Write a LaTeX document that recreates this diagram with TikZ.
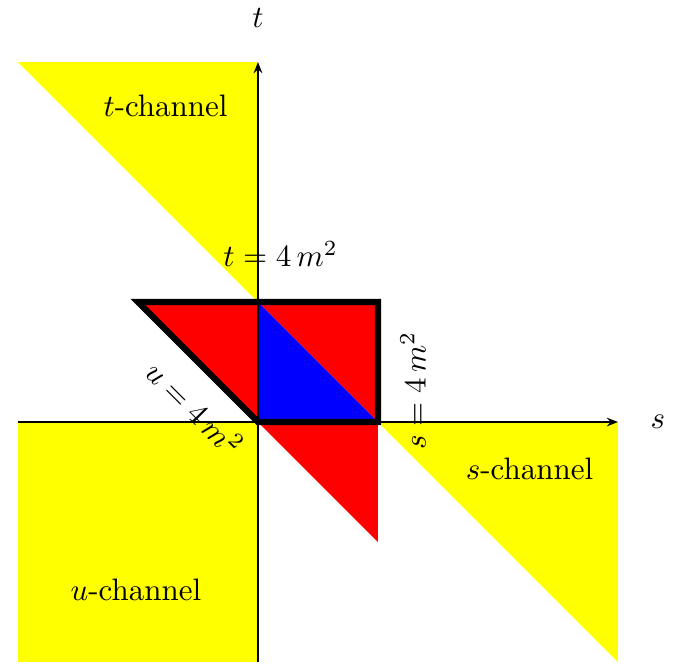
\documentclass[tikz,border=0pt]{standalone}
\usepackage{amsmath,amssymb}
\usepackage{xcolor}
\usepackage{tikz}
\usetikzlibrary{arrows.meta,calc,positioning}
\definecolor{chanyellow}{RGB}{255,255,0}
\tikzset{
  channel/.style={fill=chanyellow},
  crossed/.style={fill=red},
  mandel/.style={fill=blue},
  axis/.style={semithick,-{Stealth[length=3.6pt,width=2.8pt]}},
  boundary/.style={draw=black,line width=2pt},
  lbl/.style={inner sep=1pt}
}
\begin{document}
\begin{tikzpicture}[x=0.34cm,y=0.34cm]
  \useasboundingbox (-8.6,-8.133) rectangle (14.167,14.067);

  % Physical channels.
  \fill[channel] (-8,12) -- (0,12) -- (0,4) -- cycle;
  \fill[channel] (4,0) -- (12,0) -- (12,-8) -- cycle;
  \fill[channel] (-8,0) rectangle (0,-8);

  % Crossed regions and the Mandelstam triangle.
  \fill[crossed] (-4,4) -- (0,4) -- (0,0) -- cycle;
  \fill[crossed] (0,4) -- (4,4) -- (4,0) -- cycle;
  \fill[crossed] (0,0) -- (4,0) -- (4,-4) -- cycle;
  \fill[mandel] (0,0) -- (0,4) -- (4,0) -- cycle;

  % Axes.
  \coordinate (sL) at (-8,0);
  \coordinate (sR) at (12,0);
  \coordinate (tB) at (0,-8);
  \coordinate (tT) at (0,12);
  \draw[axis] (sL) -- (sR);
  \draw[axis] (tB) -- (tT);
  \node (slab) at (13.33,0) {$s$};
  \node (tlab) at (0,13.47) {$t$};

  % Thresholds.
  \draw[boundary] (-4,4) -- (4,4) -- (4,0) -- (0,0) -- cycle;
  \node[lbl] (tline) at (0.75,5.6) {$t=4\,m^2$};
  \node[lbl,rotate=90] (sline) at (5.17,1.05) {$s=4\,m^2$};
  \node[lbl,rotate=-45] (uline) at (-2.1,0.47) {$u=4\,m^2$};

  \node (tchan) at (-3.08,10.53) {$t$-channel};
  \node (schan) at (9.05,-1.57) {$s$-channel};
  \node (uchan) at (-4.07,-5.6) {$u$-channel};
\end{tikzpicture}
\end{document}
